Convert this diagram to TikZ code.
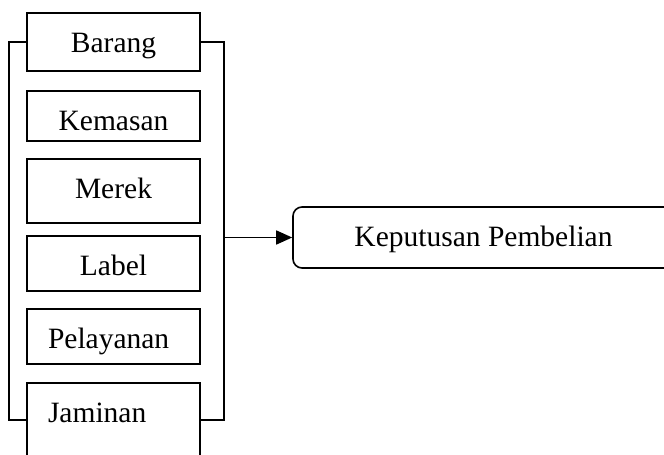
\documentclass[tikz,border=0pt]{standalone}
\usepackage{fontspec}
\setmainfont{Liberation Serif}
\usetikzlibrary{positioning, arrows.meta}

\begin{document}
\begin{tikzpicture}[x=1pt, y=-1pt, line width=1.6pt,
    faktor/.style={draw, rectangle, minimum width=173pt, inner ysep=0pt,
      text height=39pt, anchor=base, font=\fontsize{29.5}{35}\selectfont},
    faktorkiri/.style={faktor, text width=131pt, inner xsep=21pt, align=left},
    hasil/.style={faktor, rounded corners=9pt, minimum width=381pt},
    panah/.style={-{Triangle[length=16pt, width=14pt]}}]
  \clip (0,0) rectangle (664,455);
  % variabel bebas
  \node[faktor, text depth=19pt] (barang) at (113.5,52) {Barang};
  \node[faktor, text depth=11pt] (kemasan) at (113.5,130) {Kemasan};
  \node[faktor, text depth=25pt] (merek) at (113.5,198) {Merek};
  \node[faktor, text depth=16pt] (label) at (113.5,275) {Label};
  \node[faktorkiri, text depth=16pt] (pelayanan) at (113.5,348) {Pelayanan};
  \node[faktorkiri, text depth=70pt] (jaminan) at (113.5,422) {Jaminan};
  % variabel terikat
  \node[hasil, text depth=22pt] (keputusan) at (483.5,246) {Keputusan Pembelian};

  \draw (barang.west) -- ++(-17,0) |- (jaminan.mid west);
  \draw (barang.east) -- ++(23,0) coordinate (kanan) |- (jaminan.mid east);
  \draw[panah] (kanan |- keputusan.west) -- (keputusan.west);
\end{tikzpicture}
\end{document}
